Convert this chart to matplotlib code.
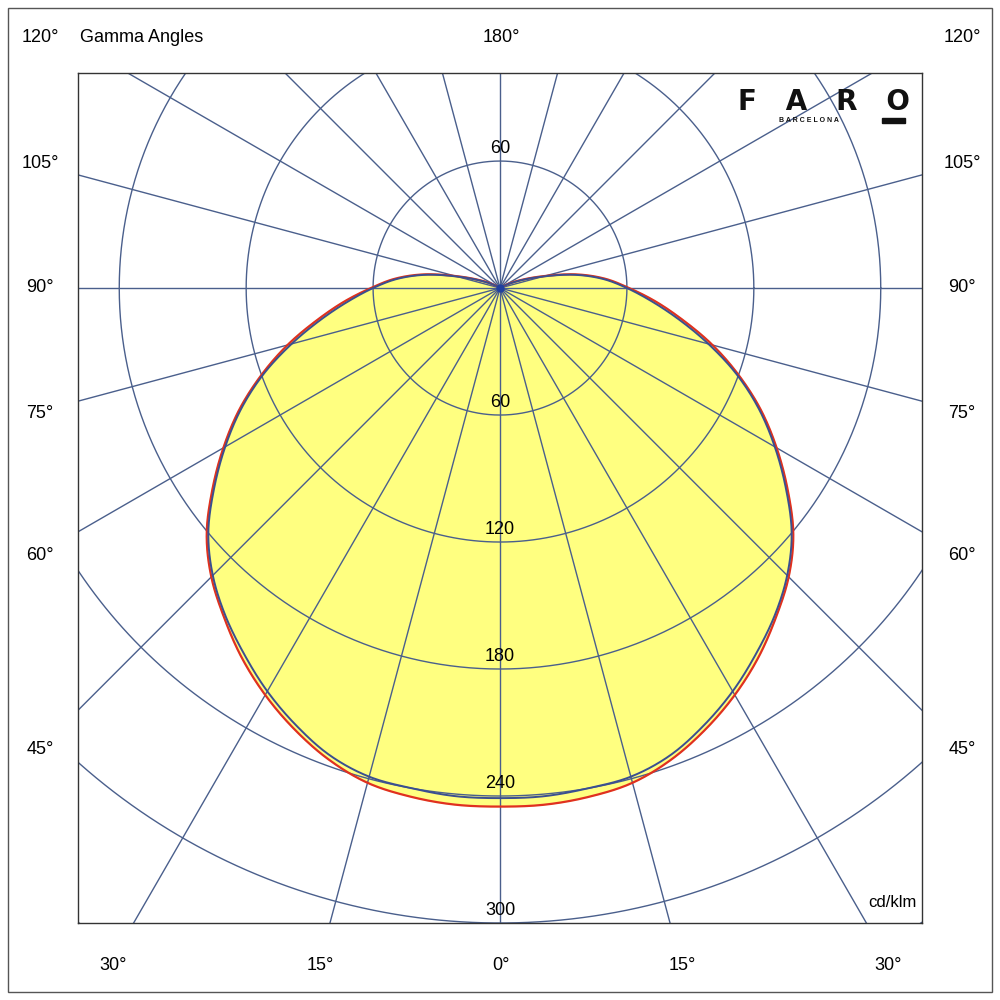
import numpy as np
import matplotlib
matplotlib.use("Agg")
import matplotlib.pyplot as plt
from matplotlib.patches import Rectangle

plt.rcParams["font.family"] = "Liberation Sans"

gamma = [0, 5, 10, 15, 20, 25, 30, 35, 40, 45, 50, 55, 60, 65, 70, 75, 80, 85, 90,
         95, 100, 105, 110, 115, 120, 125, 130]
c0_180 = [245, 245, 244, 242, 237, 230, 222, 213, 203, 193, 181, 166, 151, 136, 120,
          104, 88, 74, 61, 50, 37, 22, 12, 6, 2, 1, 0]
c90_270 = [241, 241, 240, 239, 235, 228, 220, 211, 202, 192, 180, 165, 150, 135, 119,
           102, 86, 72, 60, 49, 36, 21, 11, 5, 2, 1, 0]
rings = [60, 120, 180, 240, 300, 360, 420, 480]
ring_labels = ["60", "120", "180", "240", "300"]
side_labels = ["120°", "105°", "90°", "75°", "60°", "45°"]
bottom_labels = ["30°", "15°", "0°", "15°", "30°"]

fig = plt.figure(figsize=(10, 10), dpi=100)
fig.patches.append(Rectangle((0.008, 0.008), 0.984, 0.984, transform=fig.transFigure,
                             fill=False, ec="#555555", lw=1))
ax = fig.add_axes([0.078, 0.077, 0.844, 0.850])
ax.set_xlim(-199.5, 199.5)
ax.set_ylim(-300, 101.6)
ax.set_xticks([]); ax.set_yticks([])
for s in ax.spines.values():
    s.set_color("#333333"); s.set_linewidth(1)

gc = "#4a5f8c"

def smooth(g, v, n=20):
    g = np.asarray(g, float); v = np.asarray(v, float)
    vp = np.concatenate([[v[1]], v, [v[-1]]])
    gs, vs = [], []
    for i in range(len(g) - 1):
        p0, p1, p2, p3 = vp[i], vp[i + 1], vp[i + 2], vp[i + 3]
        t = np.linspace(0, 1, n, endpoint=False)
        val = 0.5 * (2 * p1 + (-p0 + p2) * t + (2 * p0 - 5 * p1 + 4 * p2 - p3) * t ** 2
                     + (-p0 + 3 * p1 - 3 * p2 + p3) * t ** 3)
        gs.append(g[i] + (g[i + 1] - g[i]) * t); vs.append(val)
    gs.append([g[-1]]); vs.append([v[-1]])
    return np.concatenate(gs), np.clip(np.concatenate(vs), 0, None)

def curve(vals):
    gg, v = smooth(gamma, vals)
    g = np.radians(gg)
    xr = v * np.sin(g); yr = -v * np.cos(g)
    x = np.concatenate([-xr[::-1], xr[1:]]); y = np.concatenate([yr[::-1], yr[1:]])
    return x, y

x0, y0 = curve(c0_180)
x1, y1 = curve(c90_270)
ax.fill(x0, y0, color="#ffff80", zorder=1)

t = np.linspace(0, 2 * np.pi, 721)
for r in rings:
    ax.plot(r * np.cos(t), r * np.sin(t), color=gc, lw=1.0, zorder=2)
for a in np.arange(0, 360, 15):
    ar = np.radians(a)
    ax.plot([0, 800 * np.sin(ar)], [0, -800 * np.cos(ar)], color=gc, lw=1.0, zorder=2)

ax.plot(x0, y0, color="#e03020", lw=1.6, zorder=3)
ax.plot(x1, y1, color="#3a4f90", lw=1.4, zorder=4)
ax.plot([0], [0], "o", color="#2040a0", ms=5, zorder=5)

ax.text(0, 62, "60", ha="center", va="bottom", fontsize=13, zorder=5)
for i, lab in enumerate(ring_labels):
    ax.text(0, -rings[i] + 2, lab, ha="center", va="bottom", fontsize=13, zorder=5)
ax.text(197, -294, "cd/klm", ha="right", va="bottom", fontsize=12, zorder=5)

ys = [38, 163, 288, 413, 555, 750]
for lab, yp in zip(side_labels, ys):
    fig.text(0.040, 1 - yp / 1000, lab, ha="center", va="center", fontsize=13)
    fig.text(0.962, 1 - yp / 1000, lab, ha="center", va="center", fontsize=13)
fig.text(0.080, 1 - 38 / 1000, "Gamma Angles", ha="left", va="center", fontsize=13)
fig.text(0.501, 1 - 38 / 1000, "180°", ha="center", va="center", fontsize=13)
for lab, xp in zip(bottom_labels, [113, 320, 501, 682, 888]):
    fig.text(xp / 1000, 1 - 965 / 1000, lab, ha="center", va="center", fontsize=13)

fig.text(0.824, 1 - 102 / 1000, "F   A   R   O", ha="center", va="center", fontsize=20,
         color="#111111", fontweight="bold", fontfamily="DejaVu Sans")
fig.text(0.809, 1 - 120 / 1000, "B A R C E L O N A", ha="center", va="center", fontsize=5,
         color="#111111", fontweight="bold")
fig.patches.append(Rectangle((0.882, 1 - 123 / 1000), 0.023, 0.005, transform=fig.transFigure,
                             color="#111111"))
fig.savefig("out.png", dpi=100)
